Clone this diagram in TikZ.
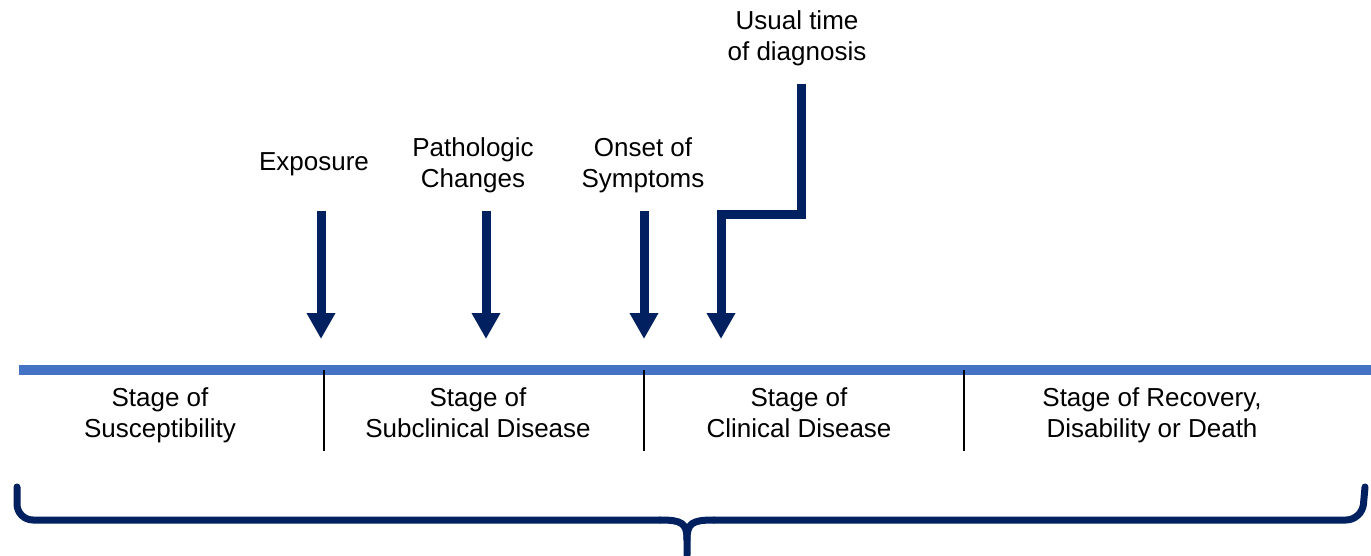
\documentclass[tikz,border=0pt]{standalone}
\usepackage{fontspec}
\setmainfont{Liberation Sans}
\usetikzlibrary{arrows.meta}
\definecolor{navy}{HTML}{002060}
\definecolor{lineblue}{HTML}{4472C4}
\begin{document}
\begin{tikzpicture}[x=0.5pt,y=-0.5pt,
  lbl/.style={align=center,font=\fontsize{13}{15.5}\selectfont,inner sep=0pt},
  bigarrow/.style={draw=navy,line width=4.5pt,line join=miter,
    -{Triangle[width=13.5pt,length=13pt]},fill=none},
  sep/.style={draw=black,line width=1pt},
  brace/.style={draw=navy,line width=3.5pt,line cap=round}]
\useasboundingbox (0,0) rectangle (1371,556);
% timeline
\coordinate (lineL) at (19,370);
\coordinate (lineR) at (1371,370);
\draw[lineblue,line width=5pt] (lineL) -- (lineR);
% separators
\foreach \x/\n in {324/a,644/b,964/c}{
  \coordinate (s\n top) at (\x,370);
  \coordinate (s\n bot) at (\x,451);
  \draw[sep] (s\n top) -- (s\n bot);
}
% stage labels
\node[lbl] (st1) at (160,415.5) {\strut Stage of\\Susceptibility\strut};
\node[lbl] (st2) at (478,415.5) {\strut Stage of\\Subclinical Disease\strut};
\node[lbl] (st3) at (799,415.5) {\strut Stage of\\Clinical Disease\strut};
\node[lbl] (st4) at (1152,415.5) {\strut Stage of Recovery,\\Disability or Death\strut};
% event labels
\node[lbl] (exp) at (314,164) {Exposure};
\node[lbl] (path) at (473,166) {\strut Pathologic\\Changes\strut};
\node[lbl] (onset) at (643,166) {\strut Onset of\\Symptoms\strut};
\node[lbl] (diag) at (797,39) {\strut Usual time\\of diagnosis\strut};
% arrows
\coordinate (a1t) at (321,211); \coordinate (a1b) at (321,339);
\coordinate (a2t) at (486,211); \coordinate (a2b) at (486,339);
\coordinate (a3t) at (644,211); \coordinate (a3b) at (644,339);
\coordinate (a4t) at (801,84);  \coordinate (a4m) at (801,214);
\coordinate (a4n) at (721,214); \coordinate (a4b) at (721,339);
\draw[bigarrow] (a1t) -- (a1b);
\draw[bigarrow] (a2t) -- (a2b);
\draw[bigarrow] (a3t) -- (a3b);
\draw[bigarrow] (a4t) -- (a4m) -- (a4n) -- (a4b);
% brace
\coordinate (bL) at (17,487);
\coordinate (bR) at (1365,487);
\coordinate (bM) at (687,555);
\draw[brace,rounded corners=8pt] (bL) -- (17,520) -- (660,520);
\draw[brace,rounded corners=8pt] (714,520) -- (1362,520) -- (bR);
\draw[brace] (660,520) .. controls (682,520) and (687,523) .. (687,540) -- (bM);
\draw[brace] (714,520) .. controls (692,520) and (687,523) .. (687,540);
\end{tikzpicture}
\end{document}
